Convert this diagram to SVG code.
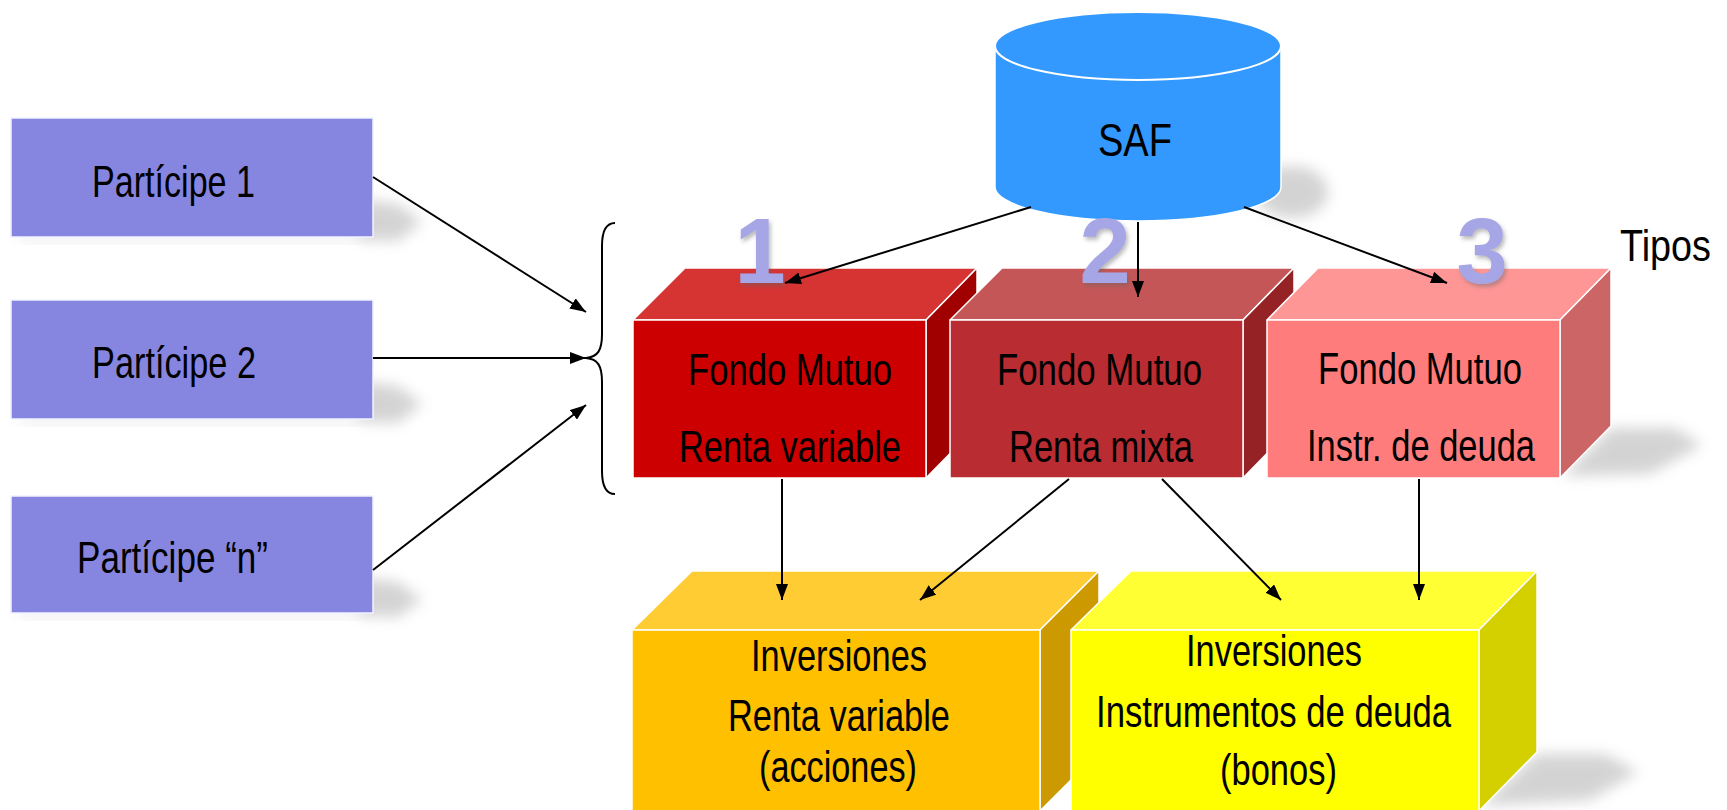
<svg xmlns="http://www.w3.org/2000/svg" width="1727" height="810" viewBox="0 0 1727 810">
<defs>
<style>
.t{font-family:"Liberation Sans Narrow","Liberation Sans",Arial,sans-serif;font-size:44px;fill:#000}
.num{font-family:"Liberation Sans",Arial,sans-serif;font-weight:bold;font-size:92px;fill:#A6A6E6;text-anchor:middle}
.part{fill:#8686E0;stroke:#F2F2FF;stroke-width:1.5}
.edge{stroke:#FFFFFF;stroke-width:1.5;stroke-linejoin:round}
.conn line{stroke:#000;stroke-width:2;marker-end:url(#ah)}
.sh{fill:#A0A0A0;opacity:0.45;filter:url(#blur)}
</style>
<filter id="blur" x="-50%" y="-50%" width="200%" height="200%"><feGaussianBlur stdDeviation="7"/></filter>
<filter id="nsh" x="-20%" y="-20%" width="150%" height="150%"><feDropShadow dx="2" dy="3" stdDeviation="2" flood-color="#666" flood-opacity="0.45"/></filter>
<marker id="ah" viewBox="0 0 16 12" markerWidth="16" markerHeight="12" refX="16" refY="6" orient="auto" markerUnits="userSpaceOnUse"><path d="M0,0 L16,6 L0,12 z" fill="#000"/></marker>
</defs>
<rect width="1727" height="810" fill="#fff"/>

<g id="shadows">
<polygon class="sh" points="360,200 360,240 398,241 422,222 398,204"/>
<polygon class="sh" points="360,382 360,422 398,423 422,404 398,386"/>
<polygon class="sh" points="360,578 360,616 398,617 422,600 398,582"/>
<rect class="sh" x="20" y="236" width="345" height="6" style="opacity:0.25"/>
<rect class="sh" x="20" y="418" width="345" height="6" style="opacity:0.25"/>
<rect class="sh" x="20" y="612" width="345" height="6" style="opacity:0.25"/>
<ellipse class="sh" cx="1292" cy="192" rx="36" ry="26"/>
<polygon class="sh" points="1562,476 1611,428 1675,428 1702,445 1650,474"/>
<polygon class="sh" points="1480,806 1537,754 1605,754 1638,772 1590,800"/>
</g>

<g id="participe1"><rect class="part" x="11" y="118" width="362" height="119"/><text class="t" x="92" y="197" textLength="163" lengthAdjust="spacingAndGlyphs">Partícipe 1</text></g>
<g id="participe2"><rect class="part" x="11" y="300" width="362" height="119"/><text class="t" x="92" y="378" textLength="164" lengthAdjust="spacingAndGlyphs">Partícipe 2</text></g>
<g id="participeN"><rect class="part" x="11" y="496" width="362" height="117"/><text class="t" x="77" y="573" textLength="191" lengthAdjust="spacingAndGlyphs">Partícipe “n”</text></g>

<g id="brace"><path d="M615,223 C605,223 602,232 602,246 L602,334 C602,350 598,357 586,358 C598,359 602,366 602,382 L602,471 C602,485 605,494 615,494" fill="none" stroke="#000" stroke-width="2"/></g>

<g id="saf">
<path d="M995,46 L995,187 A143,34 0 0 0 1281,187 L1281,46 Z" fill="#3399FF" stroke="#fff" stroke-width="1.5"/>
<ellipse cx="1138" cy="46" rx="143" ry="34" fill="#3399FF" stroke="#fff" stroke-width="2"/>
<text class="t" x="1098" y="156" style="font-size:47px" textLength="74" lengthAdjust="spacingAndGlyphs">SAF</text>
</g>

<g id="tipos"><text class="t" x="1620" y="261" textLength="91" lengthAdjust="spacingAndGlyphs">Tipos</text></g>

<g id="fondo1">
<polygon class="edge" points="633,320 685,268 977,268 926,320" fill="#D63333"/>
<polygon class="edge" points="926,320 977,268 977,426 926,478" fill="#A00000"/>
<rect class="edge" x="633" y="320" width="293" height="158" fill="#CC0000"/>
<text class="t" x="688" y="385" textLength="204" lengthAdjust="spacingAndGlyphs">Fondo Mutuo</text>
<text class="t" x="679" y="462" textLength="222" lengthAdjust="spacingAndGlyphs">Renta variable</text>
</g>
<g id="fondo2">
<polygon class="edge" points="950,320 1002,268 1294,268 1243,320" fill="#C55657"/>
<polygon class="edge" points="1243,320 1294,268 1294,426 1243,478" fill="#952326"/>
<rect class="edge" x="950" y="320" width="293" height="158" fill="#B92C31"/>
<text class="t" x="997" y="385" textLength="205" lengthAdjust="spacingAndGlyphs">Fondo Mutuo</text>
<text class="t" x="1009" y="462" textLength="184" lengthAdjust="spacingAndGlyphs">Renta mixta</text>
</g>
<g id="fondo3">
<polygon class="edge" points="1267,320 1318,268 1611,268 1560,320" fill="#FF9696"/>
<polygon class="edge" points="1560,320 1611,268 1611,426 1560,478" fill="#CC6565"/>
<rect class="edge" x="1267" y="320" width="293" height="158" fill="#FF7C7C"/>
<text class="t" x="1318" y="384" textLength="204" lengthAdjust="spacingAndGlyphs">Fondo Mutuo</text>
<text class="t" x="1307" y="461" textLength="228" lengthAdjust="spacingAndGlyphs">Instr. de deuda</text>
</g>

<g id="numeros" filter="url(#nsh)">
<text class="num" x="760" y="283">1</text>
<text class="num" x="1105" y="283">2</text>
<text class="num" x="1482" y="283">3</text>
</g>

<g id="inversionesRV">
<polygon class="edge" points="632,630 692,571 1099,571 1040,630" fill="#FFCC33"/>
<polygon class="edge" points="1040,630 1099,571 1099,752 1040,811" fill="#CC9A00"/>
<rect class="edge" x="632" y="630" width="408" height="190" fill="#FFC000"/>
<text class="t" x="751" y="671" textLength="176" lengthAdjust="spacingAndGlyphs">Inversiones</text>
<text class="t" x="728" y="731" textLength="222" lengthAdjust="spacingAndGlyphs">Renta variable</text>
<text class="t" x="759" y="782" textLength="158" lengthAdjust="spacingAndGlyphs">(acciones)</text>
</g>
<g id="inversionesID">
<polygon class="edge" points="1071,630 1131,571 1537,571 1479,630" fill="#FFFF33"/>
<polygon class="edge" points="1479,630 1537,571 1537,752 1479,811" fill="#D4D000"/>
<rect class="edge" x="1071" y="630" width="408" height="190" fill="#FFFF00"/>
<text class="t" x="1186" y="666" textLength="176" lengthAdjust="spacingAndGlyphs">Inversiones</text>
<text class="t" x="1096" y="727" textLength="355" lengthAdjust="spacingAndGlyphs">Instrumentos de deuda</text>
<text class="t" x="1220" y="785" textLength="117" lengthAdjust="spacingAndGlyphs">(bonos)</text>
</g>

<g id="connectors" class="conn">
<line x1="373" y1="177" x2="586" y2="312"/>
<line x1="373" y1="358" x2="586" y2="358"/>
<line x1="373" y1="570" x2="586" y2="405"/>
<line x1="1031" y1="207" x2="785" y2="283"/>
<line x1="1138" y1="222" x2="1138" y2="297"/>
<line x1="1244" y1="207" x2="1447" y2="283"/>
<line x1="782" y1="479" x2="782" y2="600"/>
<line x1="1069" y1="479" x2="920" y2="600"/>
<line x1="1162" y1="479" x2="1281" y2="600"/>
<line x1="1419" y1="479" x2="1419" y2="600"/>
</g>
</svg>
